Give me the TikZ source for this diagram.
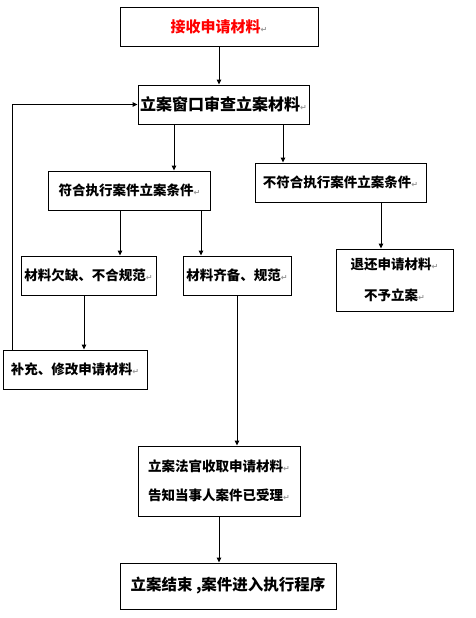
\documentclass[tikz,border=0pt]{standalone}
\usepackage{fontspec}
\usepackage{xcolor}
\usetikzlibrary{arrows.meta,positioning}
\newfontfamily\cjk{Noto Sans CJK SC}
\newfontfamily\dejavu{DejaVu Sans}
\newcommand{\pmark}{{\dejavu\fontsize{8}{8}\selectfont\color{gray!80}↵}}

\begin{document}
\begin{tikzpicture}[x=1pt, y=-1pt, >={Triangle[length=5pt,width=4.5pt]},
  font=\cjk\bfseries\fontsize{13.5}{16.5}\selectfont,
  blk/.style={draw, line width=0.9pt, inner sep=0pt, align=center, minimum width=#1},
  blk/.default=100pt,
  conn/.style={->, line width=0.9pt}]
  \useasboundingbox[fill=white] (0,0) rectangle (475,618);
  % top: intake and window check
  \node[blk=198pt, minimum height=39pt, text=red, font=\cjk\bfseries\fontsize{15}{18}\selectfont] (recv) at (219,26.5) {接收申请材料\pmark};
  \node[blk=171pt, minimum height=39pt, font=\cjk\bfseries\fontsize{16}{19}\selectfont] (check) at (223.5,104.5) {立案窗口审查立案材料\pmark};
  \draw[conn] (recv.south) -- (check.north -| recv.south);
  % conditions
  \node[blk=162pt, minimum height=39pt] (ok) at (129.5,190.5) {符合执行案件立案条件\pmark};
  \node[blk=171pt, minimum height=39pt] (notok) at (340.5,182.5) {不符合执行案件立案条件\pmark};
  \draw[conn] (check.south -| 174,0) -- (ok.north -| 174,0);
  \draw[conn] (check.south -| 283,0) -- (notok.north -| 283,0);
  % material state
  \node[blk=135pt, minimum height=39pt] (lack) at (88.5,275.5) {材料欠缺、不合规范\pmark};
  \node[blk=108pt, minimum height=39pt] (full) at (237,275.5) {材料齐备、规范\pmark};
  \node[blk=117pt, minimum height=62pt] (back) at (394.5,280) {退还申请材料\pmark\\[15pt]不予立案\pmark};
  \draw[conn] (ok.south -| 120,0) -- (lack.north -| 120,0);
  \draw[conn] (ok.south -| 201,0) -- (full.north -| 201,0);
  \draw[conn] (notok.south -| 381,0) -- (back.north -| 381,0);
  % supplement loop
  \node[blk=144pt, minimum height=39pt] (fix) at (75,369.5) {补充、修改申请材料\pmark};
  \draw[conn] (lack.south -| 84,0) -- (fix.north -| 84,0);
  \draw[conn] (fix.north -| 12,0) |- (check.west);
  % acceptance
  \node[blk=162pt, minimum height=70pt] (judge) at (219,481) {立案法官收取申请材料\pmark\\[13pt]告知当事人案件已受理\pmark};
  \draw[conn] (full.south) -- (judge.north -| full.south);
  \node[blk=216pt, minimum height=46pt, font=\cjk\bfseries\fontsize{15.5}{18}\selectfont] (done) at (228,586) {立案结束 ,案件进入执行程序};
  \draw[conn] (judge.south) -- (done.north -| judge.south);
\end{tikzpicture}
\end{document}
